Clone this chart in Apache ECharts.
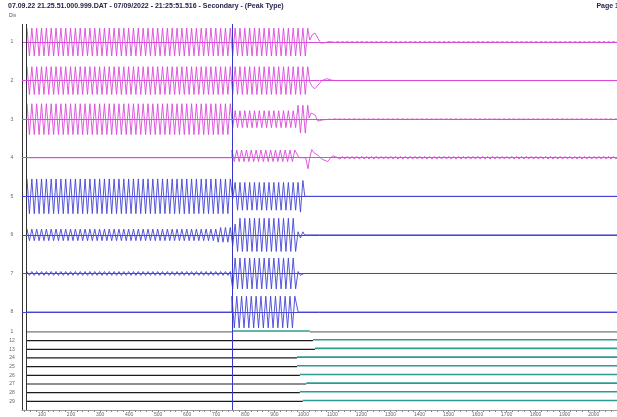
<!DOCTYPE html>
<html>
<head>
<meta charset="utf-8">
<script src="https://cdn.jsdelivr.net/npm/echarts@6/dist/echarts.min.js"></script>
<style>
  html, body { margin: 0; padding: 0; background: #fff; }
  #chart { width: 617px; height: 417px; }
</style>
</head>
<body>
<div id="chart"></div>
<script>
// Recording header
const headerText = '07.09.22 21.25.51.000.999.DAT - 07/09/2022 - 21:25:51.516 - Secondary - (Peak Type)';
const pageText = 'Page 1';
const unitText = 'Div';

// Time base (ms). Analog traces are stored as 60 Hz half-cycle peaks.
const halfCycleMs = 1000 / 120;
const viewStartMs = 31.2;
const viewEndMs = 2080;
const recordStartMs = 48.4;
const timeTickLabels = [100, 200, 300, 400, 500, 600, 700, 800, 900, 1000,
                        1100, 1200, 1300, 1400, 1500, 1600, 1700, 1800, 1900, 2000];
const timeTicks = [40, 60, 80, 100, 120, 140, 160, 180, 200, 220, 240, 260, 280, 300, 320, 340, 360, 380, 400,
                   420, 440, 460, 480, 500, 520, 540, 560, 580, 600, 620, 640, 660, 680, 700, 720, 740, 760, 780, 800,
                   820, 840, 860, 880, 900, 920, 940, 960, 980, 1000, 1020, 1040, 1060, 1080, 1100, 1120, 1140, 1160,
                   1180, 1200, 1220, 1240, 1260, 1280, 1300, 1320, 1340, 1360, 1380, 1400, 1420, 1440, 1460, 1480,
                   1500, 1520, 1540, 1560, 1580, 1600, 1620, 1640, 1660, 1680, 1700, 1720, 1740, 1760, 1780, 1800,
                   1820, 1840, 1860, 1880, 1900, 1920, 1940, 1960, 1980, 2000, 2020, 2040, 2060];

// Cursors
const cursorTimesMs = [33.6, 44.9];
const triggerTimeMs = 754;

// Analog channels
const analogNames = ['1', '2', '3', '4', '5', '6', '7', '8'];

// Peak envelopes: [fromMs, toMs, peak amplitude, dc offset]
const ch1Peaks = [[48.4, 754, 3.6], [754, 1016, 3.6]];
const ch2Peaks = [[48.4, 754, 3.6], [754, 1016, 3.6]];
const ch3Peaks = [[48.4, 754, 4.0], [754, 975, 2.2], [975, 1016, 3.6]];
const ch4Peaks = [[48.4, 754, 0], [754, 978, 1.5, 0.5]];
const ch5Peaks = [[48.4, 754, 4.5], [754, 763, 0.6], [763, 985, 3.6], [985, 1001, 4.1]];
const ch6Peaks = [[48.4, 700, 1.5], [700, 754, 1.9], [754, 770, 2.8], [770, 978, 4.3], [978, 1000, 0.8]];
const ch7Peaks = [[48.4, 754, 0.5], [754, 978, 4.0], [978, 998, 0.5]];
const ch8Peaks = [[48.4, 754, 0], [754, 978, 4.1]];

// Decay after the breaker opens: [ms, value]
const ch1Transient = [[1022, 0.5], [1031, 1.9], [1040, 2.3], [1050, 1.0], [1060, -0.3], [1072, -0.2], [1088, 0.1], [1102, 0]];
const ch2Transient = [[1022, -0.4], [1031, -1.6], [1040, -2.1], [1050, -1.2], [1064, 0], [1081, 0.5], [1098, 0.1], [1115, 0]];
const ch3Transient = [[1020, 0.3], [1027, 1.6], [1033, 2.1], [1041, 1.0], [1050, -0.5], [1065, -0.2], [1091, 0]];
const ch4Transient = [[985, 0], [1008, 0], [1012, -1.5], [1016, -2.85], [1022, 0], [1029, 2.1], [1038, 1.2],
                      [1047, 0.8], [1065, -0.4], [1084, -1.0], [1094, 0], [1102, 0.5], [1115, 0.1]];
const ch5Transient = [[1005, 0]];
const ch6Transient = [[1004, 0]];
const ch7Transient = [[1002, 0]];
const ch8Transient = [[982, 0]];

// Residual ripple after settling: [fromMs, toMs, peak amplitude]
const ch1Ripple = [[1110, 2080, 0.12]];
const ch2Ripple = [];
const ch3Ripple = [[1100, 2080, 0.08]];
const ch4Ripple = [[1126, 2080, 0.35]];
const ch5Ripple = [];
const ch6Ripple = [];
const ch7Ripple = [];
const ch8Ripple = [];

// Digital channels: intervals where each input is high
const digitalNames = ['1', '12', '13', '24', '25', '26', '27', '28', '29'];
const digitalHighMs = [
  [[754, 1022]],
  [[1033, 2080]],
  [[1040, 2080]],
  [[978, 2080]],
  [[978, 2080]],
  [[988, 2080]],
  [[1010, 2080]],
  [[988, 2080]],
  [[998, 2080]]
];

// ---- styling ----
const analogColors = ['#da4ada', '#da4ada', '#da4ada', '#da4ada', '#4444d6', '#4444d6', '#4444d6', '#4444d6'];
const digitalLowColors = ['#777777', '#1c1c1c', '#1c1c1c', '#1c1c1c', '#1c1c1c', '#1c1c1c', '#1c1c1c', '#1c1c1c', '#1c1c1c'];
const digitalHighColor = '#2f9a92';
const laneStep = 10;

const analogPeaks = [ch1Peaks, ch2Peaks, ch3Peaks, ch4Peaks, ch5Peaks, ch6Peaks, ch7Peaks, ch8Peaks];
const analogTransients = [ch1Transient, ch2Transient, ch3Transient, ch4Transient, ch5Transient, ch6Transient, ch7Transient, ch8Transient];
const analogRipples = [ch1Ripple, ch2Ripple, ch3Ripple, ch4Ripple, ch5Ripple, ch6Ripple, ch7Ripple, ch8Ripple];

function buildTrace(peaks, transient, ripple, lane) {
  const pts = [];
  let sign = 1;
  const addPeaks = (segs) => {
    if (!segs.length) return;
    let t = segs[0][0];
    for (const [from, to, amp, dc = 0] of segs) {
      if (amp === 0) {
        pts.push([from, lane + dc], [to, lane + dc]);
        t = to;
        continue;
      }
      if (t < from) t = from;
      while (t < to) {
        pts.push([t, lane + dc + sign * amp]);
        sign = -sign;
        t += halfCycleMs;
      }
    }
  };
  addPeaks(peaks);
  transient.forEach(([t, v]) => pts.push([t, lane + v]));
  addPeaks(ripple);
  pts.push([viewEndMs, lane]);
  return pts;
}

const cursorLines = (triggerColor) => [
  { xAxis: cursorTimesMs[0], lineStyle: { color: '#333', width: 1, type: 'solid' } },
  { xAxis: cursorTimesMs[1], lineStyle: { color: '#333', width: 1, type: 'solid' } },
  { xAxis: triggerTimeMs, lineStyle: { color: triggerColor, width: 1, type: 'solid' } }
];

const series = [];
const analogLanes = [];
analogNames.forEach((name, i) => {
  const lane = (analogNames.length - i) * laneStep;
  analogLanes.push(lane);
  const marks = [{ yAxis: lane, lineStyle: { color: analogColors[i], width: 1, type: 'solid' } }];
  if (i === 0) marks.push(...cursorLines('#3535c8'));
  series.push({
    type: 'line',
    name: 'Ch ' + name,
    xAxisIndex: 0,
    yAxisIndex: 0,
    data: buildTrace(analogPeaks[i], analogTransients[i], analogRipples[i], lane),
    showSymbol: false,
    symbol: 'none',
    lineStyle: { color: analogColors[i], width: 0.9 },
    silent: true,
    z: 3,
    markLine: { silent: true, symbol: 'none', label: { show: false }, data: marks }
  });
});

const digitalLanes = [];
digitalNames.forEach((name, i) => {
  const lane = digitalNames.length - i;
  digitalLanes.push(lane);
  const highs = digitalHighMs[i];
  const lows = [];
  let cur = recordStartMs;
  highs.forEach(([a, b]) => {
    if (a > cur) lows.push([cur, a]);
    cur = b;
  });
  if (cur < viewEndMs) lows.push([cur, viewEndMs]);
  lows.forEach(([a, b], k) => {
    const s = {
      type: 'line', xAxisIndex: 1, yAxisIndex: 1,
      data: [[a, lane], [b, lane]],
      showSymbol: false, symbol: 'none', silent: true,
      lineStyle: { color: digitalLowColors[i], width: 1.2 }, z: 3
    };
    if (i === 0 && k === 0) {
      s.markLine = { silent: true, symbol: 'none', label: { show: false }, data: cursorLines('#3535c8') };
    }
    series.push(s);
  });
  highs.forEach(([a, b]) => {
    series.push({
      type: 'line', xAxisIndex: 1, yAxisIndex: 1,
      data: [[a, lane + 0.1], [b, lane + 0.1]],
      showSymbol: false, symbol: 'none', silent: true,
      lineStyle: { color: digitalHighColor, width: 1.6 }, z: 3
    });
  });
});

const headerStyle = { fontSize: 7, fontWeight: 'bold', color: '#24244c', fontFamily: 'Liberation Sans' };

const chart = echarts.init(document.getElementById('chart'), null, { renderer: 'canvas', width: 617, height: 417 });
chart.setOption({
  animation: false,
  backgroundColor: '#ffffff',
  title: [
    { text: headerText, left: 8, top: 3, padding: 0, textStyle: headerStyle },
    { text: pageText, right: -2, top: 3, padding: 0, textStyle: headerStyle },
    { text: unitText, left: 9, top: 13, padding: 0,
      textStyle: { fontSize: 5, fontWeight: 'normal', color: '#555', fontFamily: 'Liberation Sans' } }
  ],
  grid: [
    { left: 22, right: 0, top: 24, height: 326.6 },
    { left: 22, right: 0, top: 323.25, height: 87.5 }
  ],
  xAxis: [
    { gridIndex: 0, type: 'value', min: viewStartMs, max: viewEndMs, show: false },
    { gridIndex: 1, type: 'value', min: viewStartMs, max: viewEndMs,
      axisLine: { show: true, onZero: false, lineStyle: { color: '#999', width: 1 } },
      axisTick: { show: true, customValues: timeTicks, length: 2, lineStyle: { color: '#888' } },
      axisLabel: { customValues: timeTickLabels, fontSize: 5, color: '#666', margin: 2,
                   fontFamily: 'Liberation Sans', formatter: (v) => String(v) },
      splitLine: { show: false } }
  ],
  yAxis: [
    { gridIndex: 0, type: 'value', min: 0, max: 84.67,
      axisLine: { show: false }, axisTick: { show: false }, splitLine: { show: false },
      axisLabel: { customValues: analogLanes, fontSize: 5, color: '#666', margin: 10, align: 'center',
                   fontFamily: 'Liberation Sans',
                   formatter: (v) => analogNames[analogNames.length - Math.round(v / laneStep)] } },
    { gridIndex: 1, type: 'value', min: 0, max: 10,
      axisLine: { show: false }, axisTick: { show: false }, splitLine: { show: false },
      axisLabel: { customValues: digitalLanes, fontSize: 5, color: '#666', margin: 10, align: 'center',
                   fontFamily: 'Liberation Sans',
                   formatter: (v) => digitalNames[digitalNames.length - Math.round(v)] } }
  ],
  series: series
});
</script>
</body>
</html>
